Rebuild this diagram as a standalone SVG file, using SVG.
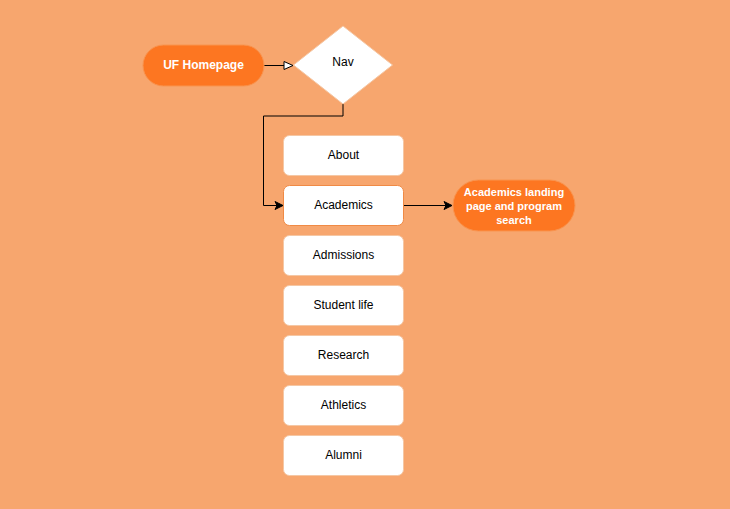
<svg xmlns="http://www.w3.org/2000/svg" width="730" height="509" viewBox="0 0 730 509">
<style>
.bg{fill:#F7A66E}
.pill{fill:#FD7621;stroke:#F9944F;stroke-width:1}
.box{fill:#FFFFFF;stroke:#F5C7A4;stroke-width:1}
.dia{fill:#FFFFFF;stroke:#F5C7A4;stroke-width:1}
.t{font-family:"Liberation Sans",Arial,sans-serif;font-size:12px;fill:#000;text-anchor:middle;dominant-baseline:central}
.tw{font-family:"Liberation Sans",Arial,sans-serif;font-size:12px;font-weight:bold;fill:#FFFFFF;text-anchor:middle;dominant-baseline:central}
.tws{font-size:11px}
.edge{fill:none;stroke:#000;stroke-width:1}
</style>
<defs>
<marker id="open" markerWidth="12" markerHeight="10" refX="10" refY="5" orient="auto" markerUnits="userSpaceOnUse">
<path d="M1,1 L10,5 L1,9 Z" fill="#FFFFFF" stroke="#000" stroke-width="1"/>
</marker>
<marker id="fill" markerWidth="10" markerHeight="10" refX="9" refY="5" orient="auto" markerUnits="userSpaceOnUse">
<path d="M1,1 L9,5 L1,9 L3,5 Z" fill="#000" stroke="#000" stroke-width="1"/>
</marker>
</defs>
<rect class="bg" x="0" y="0" width="730" height="509"/>
<g id="connectors">
<path class="edge" d="M264,65.5 L293,65.5" marker-end="url(#open)"/>
<path class="edge" d="M343,104 L343,116 L263.5,116 L263.5,205.5 L283,205.5" marker-end="url(#fill)"/>
<path class="edge" d="M403,205.5 L452,205.5" marker-end="url(#fill)"/>
</g>
<g id="uf-homepage">
<rect class="pill" x="143" y="45" width="121" height="41" rx="20.5"/>
<text class="tw" x="203.5" y="65">UF Homepage</text>
</g>
<g id="nav">
<polygon class="dia" points="343,26 392.5,65 343,104 293.5,65"/>
<text class="t" x="343" y="61.5">Nav</text>
</g>
<g id="about">
<rect class="box" x="283.5" y="135.5" width="120" height="40" rx="6"/>
<text class="t" x="343.5" y="154.5">About</text>
</g>
<g id="academics">
<rect class="box" x="283.5" y="185.5" width="120" height="40" rx="6" style="stroke:#F08A45"/>
<text class="t" x="343.5" y="204.5">Academics</text>
</g>
<g id="admissions">
<rect class="box" x="283.5" y="235.5" width="120" height="40" rx="6"/>
<text class="t" x="343.5" y="254.5">Admissions</text>
</g>
<g id="student-life">
<rect class="box" x="283.5" y="285.5" width="120" height="40" rx="6"/>
<text class="t" x="343.5" y="304.5">Student life</text>
</g>
<g id="research">
<rect class="box" x="283.5" y="335.5" width="120" height="40" rx="6"/>
<text class="t" x="343.5" y="354.5">Research</text>
</g>
<g id="athletics">
<rect class="box" x="283.5" y="385.5" width="120" height="40" rx="6"/>
<text class="t" x="343.5" y="404.5">Athletics</text>
</g>
<g id="alumni">
<rect class="box" x="283.5" y="435.5" width="120" height="40" rx="6"/>
<text class="t" x="343.5" y="454.5">Alumni</text>
</g>
<g id="academics-landing">
<rect class="pill" x="453" y="180" width="122" height="51" rx="25.5"/>
<text class="tw tws" x="514" y="192">Academics landing</text>
<text class="tw tws" x="514" y="206">page and program</text>
<text class="tw tws" x="514" y="220">search</text>
</g>
</svg>
